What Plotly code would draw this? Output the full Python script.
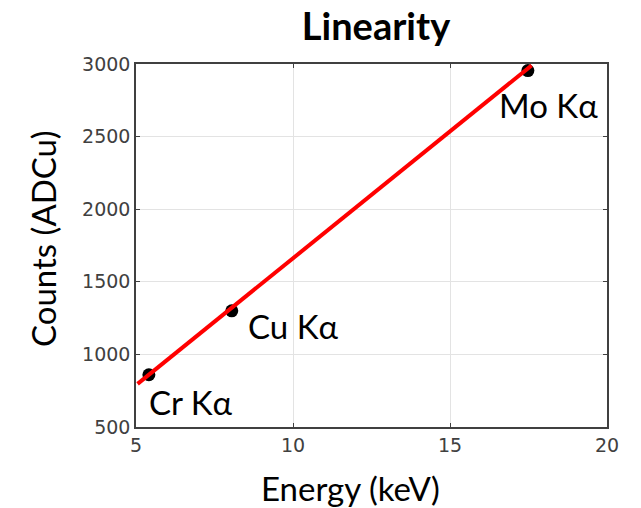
import plotly.graph_objects as go

energy_kev = [5.41, 8.05, 17.48]
counts_adcu = [860, 1300, 2955]
line_labels = ["Cr Kα", "Cu Kα", "Mo Kα"]
fit_x = [5.05, 17.6]
fit_y = [797, 2990]
x_ticks = [5, 10, 15, 20]
y_ticks = [500, 1000, 1500, 2000, 2500, 3000]

label_font = "Lato"
tick_font = "DejaVu Sans"

L, R, T, B = 136, 34, 64, 81
W, H = 641, 508
pw, ph = W - L - R, H - T - B

fig = go.Figure()
fig.add_trace(go.Scatter(x=fit_x, y=fit_y, mode="lines",
                         line=dict(color="#ff0000", width=4), showlegend=False))
fig.add_trace(go.Scatter(x=energy_kev, y=counts_adcu, mode="markers",
                         marker=dict(color="black", size=13), showlegend=False))
fig.data = (fig.data[1], fig.data[0])

shifts = [(-2, -27, "left"), (14, -15, "left"), (72, -34, "right")]
for xv, yv, lab, (dx, dy, anc) in zip(energy_kev, counts_adcu, line_labels, shifts):
    fig.add_annotation(x=xv, y=yv, text=lab, showarrow=False, xanchor=anc,
                       yanchor="middle", xshift=dx, yshift=dy,
                       font=dict(family=label_font, size=33, color="black"))

fig.add_annotation(xref="paper", yref="paper", x=(350 - L) / pw, y=(H - B - 488) / ph,
                   text="Energy (keV)", showarrow=False, xanchor="center", yanchor="middle",
                   font=dict(family=label_font, size=33, color="black"))
fig.add_annotation(xref="paper", yref="paper", x=(43 - L) / pw, y=(H - B - 239) / ph,
                   text="Counts (ADCu)", showarrow=False, textangle=-90,
                   xanchor="center", yanchor="middle",
                   font=dict(family=label_font, size=33, color="black"))

axis_common = dict(showgrid=True, gridcolor="#e3e3e3", gridwidth=1,
                   showline=True, linecolor="#404040", linewidth=1.5, mirror="ticks",
                   ticks="inside", ticklen=4, tickcolor="#404040",
                   tickfont=dict(family=tick_font, size=19, color="#404040"),
                   zeroline=False)

fig.update_xaxes(range=[5, 20], tickvals=x_ticks, **axis_common)
fig.update_yaxes(range=[500, 3000], tickvals=y_ticks, **axis_common)

fig.update_layout(
    width=W, height=H,
    margin=dict(l=L, r=R, t=T, b=B),
    paper_bgcolor="white", plot_bgcolor="white",
    title=dict(text="<b>Linearity</b>", x=376 / W, xanchor="center",
               y=1 - 27 / H, yanchor="middle",
               font=dict(family=label_font, size=38, color="black")),
)

fig.write_html("out.html")
